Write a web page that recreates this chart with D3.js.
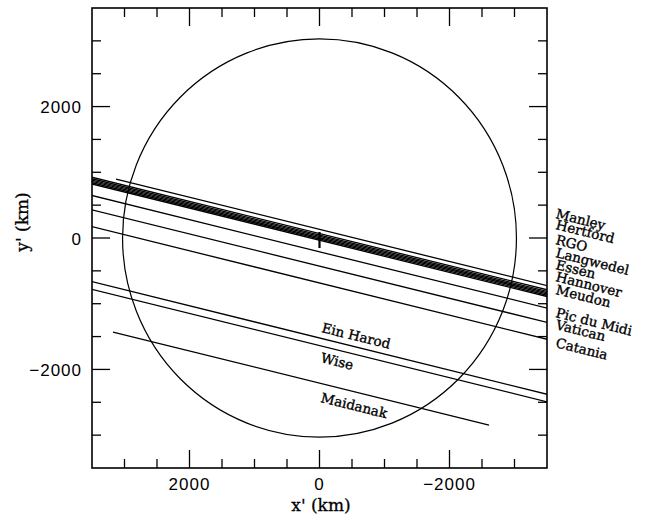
<!DOCTYPE html>
<html>
<head>
<meta charset="utf-8">
<script src="https://cdn.jsdelivr.net/npm/d3@7/dist/d3.min.js"></script>
<style>
  html, body { margin: 0; padding: 0; background: #fff; }
  svg { display: block; }
</style>
</head>
<body>
<svg id="chart" width="654" height="515"></svg>
<script>
// Occultation chords projected on the sky plane (x', y' in km)
const stations   = ["Manley", "Hertford", "RGO", "Langwedel", "Essen", "Hannover", "Meudon",
                    "Pic du Midi", "Vatican", "Catania", "Ein Harod", "Wise", "Maidanak"];
// chord offset: y' where the chord crosses x' = 0 (km)
const chordY0    = [132, 68, 45, 25, 5, -15, -34, -210, -428, -684, -1521, -1637, -2208];
// chord extent along x' (km)
const chordStart = [3130, 3600, 3600, 3600, 3600, 3600, 3600, 3600, 3600, 3600, 3600, 3600, 3177];
const chordEnd   = [-3600, -3600, -3600, -3600, -3600, -3600, -3600, -3600, -3600, -3600, -3600, -3600, -2608];
const chordSlope = 0.2446;          // dy'/dx' shared by all chords
const bodyRadius = 3030;            // km
const centerMark = [91, -152];      // y' range of the marker at x' = 0

const xDomain = [3500, -3500];
const yDomain = [-3500, 3500];
const xMajor = [2000, 0, -2000];
const yMajor = [2000, 0, -2000];
const minorStep = 500;

const svg = d3.select("#chart");
const L = 92, R = 547, T = 8, B = 468;

const x = d3.scaleLinear().domain(xDomain).range([L, R]);
const y = d3.scaleLinear().domain(yDomain).range([B, T]);

const minorTicks = d3.range(-3000, 3001, minorStep);
const fmt = v => v < 0 ? "\u2212" + Math.abs(v) : String(v);

svg.append("defs").append("clipPath").attr("id", "plot")
  .append("rect").attr("x", L).attr("y", T).attr("width", R - L).attr("height", B - T);

const g = svg.append("g").attr("clip-path", "url(#plot)");

// planet limb
g.append("ellipse")
  .attr("cx", x(0)).attr("cy", y(0))
  .attr("rx", Math.abs(x(bodyRadius) - x(0)))
  .attr("ry", Math.abs(y(bodyRadius) - y(0)))
  .attr("fill", "none").attr("stroke", "#000").attr("stroke-width", 1.2);

// chords
stations.forEach((s, i) => {
  const x0 = chordStart[i], x1 = chordEnd[i];
  g.append("line")
    .attr("x1", x(x0)).attr("y1", y(chordY0[i] + chordSlope * x0))
    .attr("x2", x(x1)).attr("y2", y(chordY0[i] + chordSlope * x1))
    .attr("stroke", "#000").attr("stroke-width", 1.3);
});

// central marker
g.append("line")
  .attr("x1", x(0)).attr("x2", x(0))
  .attr("y1", y(centerMark[0])).attr("y2", y(centerMark[1]))
  .attr("stroke", "#000").attr("stroke-width", 2.2);

// frame
svg.append("rect").attr("x", L).attr("y", T).attr("width", R - L).attr("height", B - T)
  .attr("fill", "none").attr("stroke", "#000").attr("stroke-width", 1.6);

// inward ticks on all four sides
const tickLen = v => (v % 2000 === 0) ? 18 : 9;
const tg = svg.append("g").attr("stroke", "#000").attr("stroke-width", 1.3);
minorTicks.forEach(v => {
  const len = tickLen(v);
  tg.append("line").attr("x1", x(v)).attr("x2", x(v)).attr("y1", B).attr("y2", B - len);
  tg.append("line").attr("x1", x(v)).attr("x2", x(v)).attr("y1", T).attr("y2", T + len);
  tg.append("line").attr("y1", y(v)).attr("y2", y(v)).attr("x1", L).attr("x2", L + len);
  tg.append("line").attr("y1", y(v)).attr("y2", y(v)).attr("x1", R).attr("x2", R - len);
});

// tick labels
const tickFont = "'Liberation Sans', Arial, sans-serif";
svg.append("g").selectAll("text").data(xMajor).join("text")
  .attr("x", d => x(d)).attr("y", 490)
  .attr("text-anchor", "middle")
  .attr("font-family", tickFont).attr("font-size", 17).attr("letter-spacing", 1)
  .text(fmt);
svg.append("g").selectAll("text").data(yMajor).join("text")
  .attr("x", 82).attr("y", d => y(d) + 6.5)
  .attr("text-anchor", "end")
  .attr("font-family", tickFont).attr("font-size", 17).attr("letter-spacing", 1)
  .text(fmt);

// axis titles
const serif = "'DejaVu Serif', 'Liberation Serif', serif";
svg.append("text").attr("x", 321).attr("y", 511).attr("text-anchor", "middle")
  .attr("font-family", serif).attr("font-size", 17)
  .attr("stroke", "#000").attr("stroke-width", 0.3).text("x'  (km)");
svg.append("text").attr("transform", "translate(28,222) rotate(-90)")
  .attr("text-anchor", "middle")
  .attr("font-family", serif).attr("font-size", 17)
  .attr("stroke", "#000").attr("stroke-width", 0.3).text("y'  (km)");

// station labels
const angle = Math.atan(chordSlope * (y(0) - y(1000)) / (x(0) - x(1000))) * 180 / Math.PI;
const labelPos = [
  [555, 218], [555, 229], [555, 244], [555, 257], [555, 269], [555, 281], [555, 294],
  [555, 317], [555, 329], [555, 347],
  [321, 332], [320, 362], [320, 402]
];
svg.append("g").selectAll("text").data(stations).join("text")
  .attr("transform", (d, i) => `translate(${labelPos[i][0]},${labelPos[i][1]}) rotate(${angle})`)
  .attr("font-family", serif).attr("font-size", 13.5)
  .attr("stroke", "#000").attr("stroke-width", 0.35)
  .text(d => d);
</script>
</body>
</html>
